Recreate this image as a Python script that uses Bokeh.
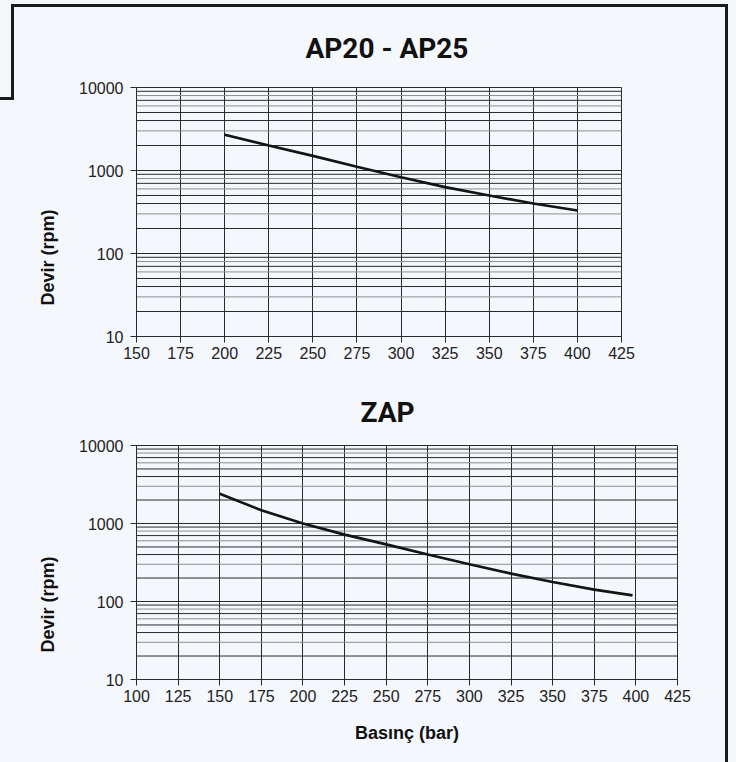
from bokeh.plotting import figure
from bokeh.layouts import column
from bokeh.models import (FixedTicker, PrintfTickFormatter, Title, Range1d,
                          GlobalInlineStyleSheet)
from bokeh.embed import file_html
from bokeh.resources import INLINE

# ---------------- data ----------------
ap_title = "AP20 - AP25"
ap_pressure = [200, 225, 250, 275, 300, 325, 350, 375, 400]
ap_rpm = [2700, 2000, 1500, 1110, 830, 630, 500, 400, 330]
ap_xticks = [150, 175, 200, 225, 250, 275, 300, 325, 350, 375, 400, 425]

zap_title = "ZAP"
zap_pressure = [150, 175, 200, 225, 250, 275, 300, 325, 350, 375, 398]
zap_rpm = [2400, 1480, 1000, 720, 540, 400, 300, 228, 178, 142, 120]
zap_xticks = [100, 125, 150, 175, 200, 225, 250, 275, 300, 325, 350, 375, 400, 425]

y_ticks = [10, 100, 1000, 10000]
y_label = "Devir  (rpm)"
x_label = "Basınç (bar)"

# ---------------- style ----------------
BG = "#f4f7fc"
DARK = "#2a2a2a"
GREY = "#8e8e8e"
minor_colors = {9: DARK, 8: GREY, 7: DARK, 6: GREY, 5: DARK, 4: DARK, 3: GREY, 2: DARK}
FONT = "Liberation Sans"


def make_panel(title, xs, ys, xticks, height, mb_top, mb_bottom, mb_right,
               title_offset, title_standoff, ylab_offset, xlab=None):
    p = figure(width=736, height=height, y_axis_type="log",
               x_range=Range1d(xticks[0], xticks[-1]), y_range=Range1d(y_ticks[0], y_ticks[-1]),
               output_backend="svg", toolbar_location=None, frame_align=False,
               min_border_left=136, min_border_right=mb_right,
               min_border_top=mb_top, min_border_bottom=mb_bottom,
               background_fill_color=BG, border_fill_color=BG,
               outline_line_color=DARK, outline_line_width=1)

    # minor horizontal lines of the log grid
    yy, cc = [], []
    for dec in y_ticks[:-1]:
        for m in range(2, 10):
            yy.append(dec * m)
            cc.append(minor_colors[m])
    p.segment(x0=[xticks[0]] * len(yy), x1=[xticks[-1]] * len(yy), y0=yy, y1=yy,
              line_color=cc, line_width=1)

    p.line(xs, ys, line_color="#141414", line_width=2.7)

    p.xaxis.ticker = FixedTicker(ticks=xticks)
    p.yaxis.ticker = FixedTicker(ticks=y_ticks, minor_ticks=[])
    p.yaxis.formatter = PrintfTickFormatter(format="%d")
    p.xgrid.grid_line_color = DARK
    p.ygrid.grid_line_color = DARK
    p.xgrid.grid_line_alpha = 1
    p.ygrid.grid_line_alpha = 1

    for ax in (p.xaxis, p.yaxis):
        ax.axis_line_color = DARK
        ax.major_tick_line_color = DARK
        ax.major_tick_in = 0
        ax.major_tick_out = 6
        ax.minor_tick_line_color = None
        ax.major_label_text_font = FONT
        ax.major_label_text_font_size = "16px"
        ax.major_label_text_color = "#222222"
    p.xaxis.major_label_standoff = 4
    p.yaxis.major_label_standoff = 7

    if xlab:
        p.xaxis.axis_label = xlab
        p.xaxis.axis_label_text_font = FONT
        p.xaxis.axis_label_text_font_style = "bold"
        p.xaxis.axis_label_text_font_size = "18px"
        p.xaxis.axis_label_text_color = "#111111"
        p.xaxis.axis_label_standoff = 18

    p.title.text = title
    p.title.text_font = "Roboto"
    p.title.text_font_style = "bold"
    p.title.text_font_size = "28px"
    p.title.text_color = "#111111"
    p.title.align = "left"
    p.title.offset = title_offset
    p.title.standoff = title_standoff

    p.add_layout(Title(text=y_label, align="left", offset=ylab_offset, standoff=37,
                       text_font=FONT, text_font_style="bold",
                       text_font_size="18px", text_color="#111111"), "left")
    return p


p1 = make_panel(ap_title, ap_pressure, ap_rpm, ap_xticks, 370, 87, 34, 115, 169, 46, 31)
p2 = make_panel(zap_title, zap_pressure, zap_rpm, zap_xticks, 392, 75, 83, 59, 224, 34, 27, x_label)

frame_css = GlobalInlineStyleSheet(css="""
html, body { background-color: #f4f7fc; }
body::before { content: ""; position: fixed; left: 11px; top: 4px; width: 714px; height: 800px;
  border-top: 3px solid #1a1a1a; border-right: 3px solid #1a1a1a;
  box-sizing: content-box; z-index: 1000; pointer-events: none; }
body::after { content: ""; position: fixed; left: -3px; top: 4px; width: 14px; height: 93px;
  border-right: 3px solid #1a1a1a; border-bottom: 3px solid #1a1a1a;
  box-sizing: content-box; z-index: 1000; pointer-events: none; }
""")
layout = column(p1, p2, spacing=0, stylesheets=[frame_css])

open("out.html", "w").write(file_html(layout, INLINE))
